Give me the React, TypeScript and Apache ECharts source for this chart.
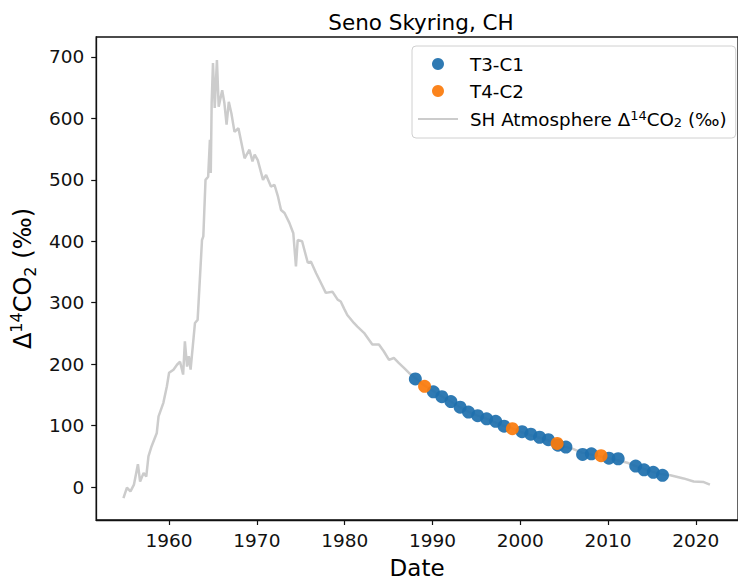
import React, { useEffect, useRef } from "react";
import * as echarts from "echarts";

// Southern Hemisphere atmospheric Δ14CO2 (‰)
const atmYears = [
  1954.8, 1955.2, 1955.6, 1956.0, 1956.45, 1956.7, 1957.1, 1957.4, 1957.65, 1958.0,
  1958.6, 1958.8, 1959.35, 1959.75, 1960.0, 1960.5, 1960.9, 1961.25, 1961.6, 1961.8,
  1962.05, 1962.25, 1962.45, 1962.95, 1963.25, 1963.75, 1963.9, 1964.15, 1964.45, 1964.65,
  1964.75, 1964.85, 1965.0, 1965.2, 1965.45, 1965.65, 1966.05, 1966.3, 1966.55, 1966.8,
  1967.1, 1967.45, 1967.9, 1968.4, 1968.6, 1969.15, 1969.5, 1969.75, 1970.1, 1970.7,
  1971.05, 1971.6, 1972.0, 1972.4, 1972.75, 1973.15, 1973.7, 1974.15, 1974.45, 1974.65,
  1975.15, 1975.8, 1976.15, 1976.75, 1977.3, 1977.85, 1978.6, 1979.2, 1979.55, 1979.95,
  1980.3, 1981.05, 1981.45, 1982.2, 1983.15, 1983.9, 1984.45, 1985.05, 1985.6, 1986.15,
  1986.75, 1987.3, 1988.0, 1989.0, 1990.0, 1991.0, 1992.0, 1993.0, 1994.0, 1995.0,
  1996.0, 1997.0, 1998.0, 1999.0, 2000.0, 2001.0, 2002.0, 2003.0, 2004.0, 2005.0,
  2006.0, 2007.0, 2008.0, 2009.0, 2010.0, 2011.0, 2012.3, 2013.0, 2014.0, 2015.0,
  2016.0, 2017.1, 2018.6, 2019.75, 2020.9, 2021.6,
];
const atmValues = [
  -18, -1, -7, 4, 37, 9, 23, 17, 50, 66,
  88, 115, 137, 164, 186, 191, 199, 204, 183, 237,
  196, 213, 191, 267, 272, 402, 408, 500, 505, 565,
  511, 625, 690, 617, 695, 619, 646, 625, 590, 627,
  608, 578, 584, 549, 535, 549, 530, 541, 532, 500,
  508, 489, 492, 473, 451, 446, 430, 413, 359, 402,
  400, 365, 367, 348, 332, 316, 318, 305, 302, 290,
  280, 267, 261, 251, 232, 232, 221, 207, 210, 202,
  194, 186, 178, 166, 157, 148, 140, 131, 123, 117,
  112, 106, 100, 96, 90, 85, 81, 77, 71, 66,
  62, 56, 53, 50, 47, 44, 39, 35, 30, 25,
  21, 19, 14, 9, 8, 4,
];

// Tree-ring samples
const t3Years = [
  1988.05, 1990.1, 1991.07, 1992.1, 1993.15, 1994.1, 1995.15, 1996.17, 1997.2, 1998.16,
  2000.2, 2001.2, 2002.2, 2003.2, 2004.3, 2005.2, 2007.1, 2008.1, 2010.1, 2011.15,
  2013.15, 2014.1, 2015.15, 2016.2,
];
const t3Values = [
  176, 155, 147, 139, 130, 122, 116, 111, 107, 99,
  90, 86, 81, 77, 68, 65, 53, 54, 47, 46,
  34, 28, 24, 19,
];
const t4Years = [1989.1, 1999.1, 2004.2, 2009.2];
const t4Values = [164, 95, 71, 51];

const xTicks = [1960, 1970, 1980, 1990, 2000, 2010, 2020];
const yTicks = [0, 100, 200, 300, 400, 500, 600, 700];

const FONT = "DejaVu Sans";
const LINE_NAME = "SH Atmosphere";

export default function App() {
  const ref = useRef<HTMLDivElement>(null);

  useEffect(() => {
    if (!ref.current) return;
    const chart = echarts.init(ref.current, null, { renderer: "svg" });
    const pairs = (xs: number[], ys: number[]) => xs.map((x, i) => [x, ys[i]]);

    const richSmall = {
      n: { fontFamily: FONT, fontSize: 18.3, color: "#000", lineHeight: 20 },
      sup: { fontFamily: FONT, fontSize: 13, color: "#000", lineHeight: 13, verticalAlign: "top" },
      sub: { fontFamily: FONT, fontSize: 13, color: "#000", lineHeight: 13, verticalAlign: "bottom" },
    };

    chart.setOption({
      animation: false,
      backgroundColor: "#fff",
      title: {
        text: "Seno Skyring, CH",
        left: 416,
        top: 6,
        textAlign: "center",
        textStyle: { fontFamily: FONT, fontSize: 21.5, fontWeight: "normal", color: "#000" },
      },
      grid: {
        left: 95.7,
        top: 37,
        width: 645.5,
        height: 483.5,
        show: true,
        borderColor: "#111",
        borderWidth: 1.3,
        backgroundColor: "#fff",
      },
      xAxis: {
        type: "value",
        min: 1951.7,
        max: 2024.8,
        name: "Date",
        nameLocation: "middle",
        nameGap: 36,
        nameTextStyle: { fontFamily: FONT, fontSize: 23, color: "#000" },
        axisLine: { show: true, onZero: false, lineStyle: { color: "#111", width: 1.3 } },
        axisTick: { show: true, length: 5, lineStyle: { color: "#111", width: 1.2 }, customValues: xTicks },
        axisLabel: {
          fontFamily: FONT,
          fontSize: 18.5,
          color: "#111",
          margin: 11,
          customValues: xTicks,
          formatter: (v: number) => String(v),
        },
        splitLine: { show: false },
      },
      yAxis: {
        type: "value",
        min: -53.7,
        max: 732.5,
        name: "{n|Δ}{sup|14}{n|CO}{sub|2}{n| (‰)}",
        nameLocation: "middle",
        nameGap: 56,
        nameRotate: 90,
        nameTextStyle: {
          fontFamily: FONT,
          fontSize: 24,
          color: "#000",
          rich: {
            n: { fontFamily: FONT, fontSize: 24, color: "#000", lineHeight: 30 },
            sup: { fontFamily: FONT, fontSize: 16, color: "#000", lineHeight: 16, verticalAlign: "top" },
            sub: { fontFamily: FONT, fontSize: 16, color: "#000", lineHeight: 16, verticalAlign: "bottom" },
          },
        },
        axisLine: { show: true, onZero: false, lineStyle: { color: "#111", width: 1.3 } },
        axisTick: { show: true, length: 5, lineStyle: { color: "#111", width: 1.2 }, customValues: yTicks },
        axisLabel: {
          fontFamily: FONT,
          fontSize: 18.5,
          color: "#111",
          margin: 12,
          customValues: yTicks,
          formatter: (v: number) => String(v),
        },
        splitLine: { show: false },
      },
      legend: {
        orient: "vertical",
        left: 412,
        top: 46,
        padding: [9, 9, 9, 6],
        itemWidth: 40,
        itemHeight: 12,
        itemGap: 9,
        borderColor: "#d0d0d0",
        borderWidth: 1,
        borderRadius: 4,
        backgroundColor: "#fff",
        selectedMode: false,
        data: [
          { name: "T3-C1", icon: "circle" },
          { name: "T4-C2", icon: "circle" },
          { name: LINE_NAME, icon: "path://M0,0h40v2h-40z", itemStyle: { color: "#cccccc" } },
        ],
        formatter: (name: string) =>
          name === LINE_NAME
            ? "{n|SH Atmosphere Δ}{sup|14}{n|CO}{sub|2}{n| (‰)}"
            : "{n|" + name + "}",
        textStyle: {
          fontFamily: FONT,
          fontSize: 18.3,
          color: "#000",
          padding: [0, 0, 0, 7],
          rich: richSmall,
        },
      },
      series: [
        {
          name: LINE_NAME,
          type: "line",
          data: pairs(atmYears, atmValues),
          showSymbol: false,
          symbol: "none",
          itemStyle: { color: "#cccccc" },
          lineStyle: { color: "#cccccc", width: 2.5 },
          z: 1,
        },
        {
          name: "T3-C1",
          type: "scatter",
          data: pairs(t3Years, t3Values),
          symbol: "circle",
          symbolSize: 13,
          itemStyle: { color: "#1f70ad", opacity: 0.93 },
          z: 2,
        },
        {
          name: "T4-C2",
          type: "scatter",
          data: pairs(t4Years, t4Values),
          symbol: "circle",
          symbolSize: 13,
          itemStyle: { color: "#fb7b0c", opacity: 0.93 },
          z: 3,
        },
      ],
    });
    return () => chart.dispose();
  }, []);

  return (
    <div
      ref={ref}
      style={{ position: "absolute", left: 0, top: 0, width: 738, height: 584 }}
    />
  );
}
